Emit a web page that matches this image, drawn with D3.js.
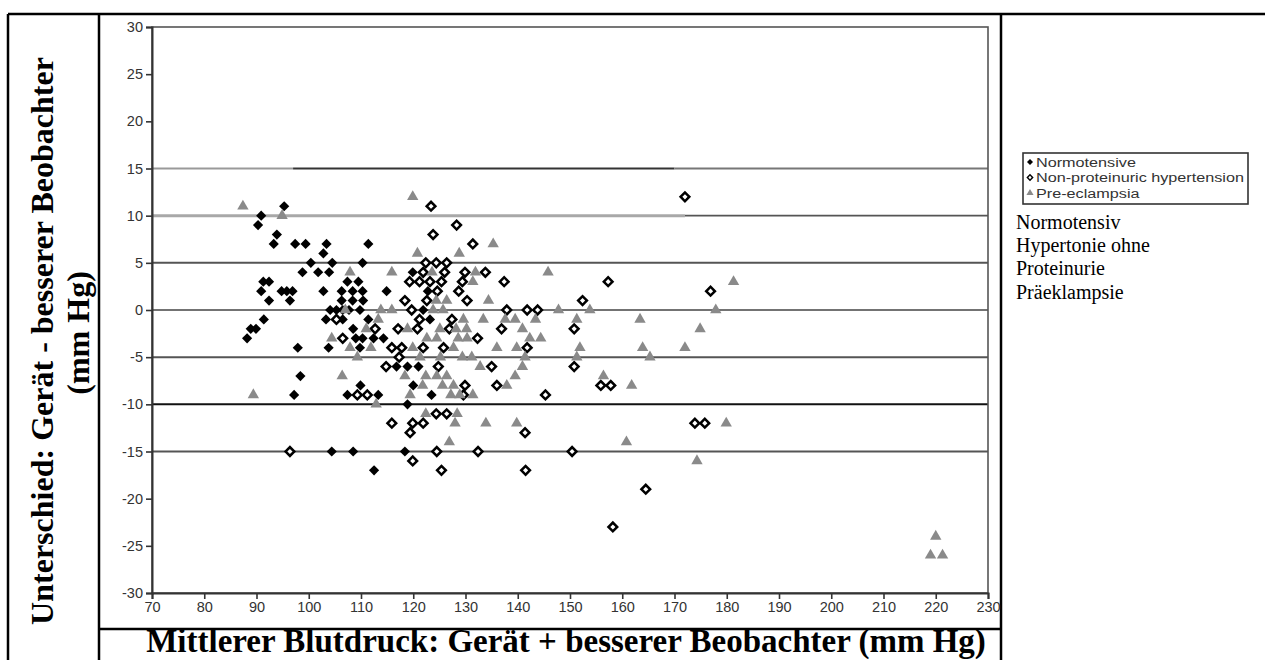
<!DOCTYPE html>
<html><head><meta charset="utf-8">
<script src="https://cdn.jsdelivr.net/npm/d3@7"></script>
<style>body{margin:0;background:#fff}svg{display:block}</style>
</head><body>
<svg id="c" width="1265" height="660"></svg>
<script>
// ---- data ----
const xTicks = [70,80,90,100,110,120,130,140,150,160,170,180,190,200,210,220,230];
const yTicks = [-30,-25,-20,-15,-10,-5,0,5,10,15,20,25,30];
const refLevels = [15,10,5,0,-5,-10,-15];
const seriesNames = ["Normotensive","Non-proteinuric hypertension","Pre-eclampsia"];
const noteLines = ["Normotensiv","Hypertonie ohne","Proteinurie","Präeklampsie"];
const yTitle1 = "Unterschied: Gerät - besserer Beobachter";
const yTitle2 = "(mm Hg)";
const xTitle = "Mittlerer Blutdruck: Gerät + besserer Beobachter (mm Hg)";

const normotensive = [
 [90.9,10],[90.3,9],[95.3,11],[93.9,8],[93.3,7],[97.4,7],[99.4,7],[103.4,7],[111.4,7],
 [102.8,6],
 [100.4,5],[104.5,5],[110.3,5],
 [98.8,4],[101.8,4],[103.9,4],[119.9,4],
 [91.3,3],[92.4,3],[107.4,3],[109.5,3],
 [90.9,2],[94.8,2],[95.8,2],[96.9,2],[102.8,2],[106.3,2],[108.4,2],[110.3,2],[114.9,2],[122.8,2],
 [92.4,1],[96.4,1],[106.3,1],[108.4,1],[110.4,1],
 [104.1,0],[105.3,0],[106.5,0],[107.7,0],[109.8,0],[121.9,0],
 [91.4,-1],[103.3,-1],[106.5,-1],[111.4,-1],[123.2,-1],
 [88.9,-2],[89.9,-2],[108.5,-2],
 [88.2,-3],[109,-3],[110.3,-3],[112.4,-3],[114.3,-3],
 [97.9,-4],[103.8,-4],[109.8,-4],
 [116.8,-6],[118.9,-6],[121,-6],
 [98.4,-7],
 [109.9,-8],[120,-8],
 [97.2,-9],[107.4,-9],[113.3,-9],[123.5,-9],
 [118.9,-10],
 [104.4,-15],[108.5,-15],[118.4,-15],
 [112.5,-17]
];
const nonProteinuric = [
 [172,12],[123.4,11],[128.3,9],[123.8,8],[131.4,7],
 [122.4,5],[124.4,5],[126.4,5],
 [121.9,4],[126,4],[129.9,4],[133.8,4],
 [119.3,3],[121.2,3],[123.2,3],[125.4,3],[129.4,3],[137.4,3],[157.3,3],
 [124.6,2],[128.7,2],[176.9,2],
 [118.4,1],[122.6,1],[130.3,1],[152.4,1],
 [119.7,0],[137.9,0],[141.8,0],[143.8,0],
 [105.3,-1],[121.2,-1],[127.4,-1],
 [112.7,-2],[117.1,-2],[120.8,-2],[126.9,-2],[136.9,-2],[150.8,-2],
 [106.5,-3],[132.3,-3],
 [115.9,-4],[117.8,-4],[121.9,-4],[125.8,-4],[141.8,-4],
 [117.3,-5],
 [114.8,-6],[124.8,-6],[135,-6],[150.8,-6],
 [129.9,-8],[136,-8],[155.9,-8],[157.8,-8],
 [109.3,-9],[111.2,-9],[129.6,-9],[145.3,-9],
 [124.4,-11],[126.4,-11],
 [115.9,-12],[119.9,-12],[121.9,-12],[173.9,-12],[175.8,-12],
 [119.4,-13],[141.4,-13],
 [96.4,-15],[124.5,-15],[132.4,-15],[150.4,-15],
 [119.9,-16],
 [125.4,-17],[141.5,-17],
 [164.5,-19],
 [158.2,-23]
];
const preEclampsia = [
 [119.9,12],[87.4,11],[94.9,10],[135.3,7],
 [120.8,6],[128.8,6],
 [107.9,4],[115.9,4],[123.6,4],[131.9,4],[145.8,4],
 [131.4,3],[181.3,3],
 [124.4,1],[126.4,1],[134.4,1],
 [107,0],[113.8,0],[115.9,0],[123.8,0],[125.7,0],[147.8,0],[153.8,0],[177.9,0],
 [113.3,-1],[129.6,-1],[133.4,-1],[137.6,-1],[139.5,-1],[143.4,-1],[151.3,-1],[163.4,-1],
 [111,-2],[118.9,-2],[125.1,-2],[128.2,-2],[130.2,-2],[140.9,-2],[174.9,-2],
 [104.4,-3],[122.6,-3],[124.5,-3],[128.6,-3],[130.3,-3],[142.3,-3],[144.4,-3],
 [107.9,-4],[111.9,-4],[119.9,-4],[127.7,-4],[136,-4],[139.8,-4],[151.9,-4],[163.9,-4],[172,-4],
 [109.3,-5],[121.3,-5],[125.2,-5],[129.4,-5],[131.2,-5],[141.4,-5],[151.3,-5],[165.3,-5],
 [132.8,-6],[140.9,-6],
 [106.4,-7],[118.4,-7],[122.4,-7],[124.5,-7],[126.4,-7],[139.5,-7],[156.4,-7],
 [121.8,-8],[125.6,-8],[127.7,-8],[137.9,-8],[161.8,-8],
 [89.4,-9],[119.4,-9],[127.2,-9],[128.9,-9],[131.4,-9],
 [112.9,-10],
 [122.4,-11],[128.4,-11],
 [128,-12],[133.9,-12],[139.8,-12],[179.9,-12],
 [126.9,-14],[160.8,-14],
 [174.3,-16],
 [220,-24],[219,-26],[221.3,-26]
];

// ---- drawing ----
const svg = d3.select("#c");
const x = d3.scaleLinear().domain([70,230]).range([152,988]);
const y = d3.scaleLinear().domain([-30,30]).range([593,27]);

// table borders
const tb = svg.append("g").attr("stroke","#000").attr("stroke-width",2.5);
tb.append("line").attr("x1",8).attr("x2",1265).attr("y1",14).attr("y2",14);
tb.append("line").attr("x1",8).attr("x2",8).attr("y1",14).attr("y2",660);
tb.append("line").attr("x1",99).attr("x2",99).attr("y1",14).attr("y2",660);
tb.append("line").attr("x1",1001).attr("x2",1001).attr("y1",14).attr("y2",660);
tb.append("line").attr("x1",99).attr("x2",1001).attr("y1",629).attr("y2",629);

// reference lines
function refStyle(v){
  if(v===10) return {segs:[[70,172,"#a8a8a8",3],[172,230,"#555",1.6]]};
  if(v===15) return {segs:[[70,97,"#999",1.8],[97,170,"#333",1.8],[170,230,"#777",1.8]]};
  if(v===-10) return {segs:[[70,230,"#111",2]]};
  if(v===0) return {segs:[[70,230,"#444",1.6]]};
  return {segs:[[70,230,"#555",2]]};
}
const rl = svg.append("g");
refLevels.forEach(v=>{
  refStyle(v).segs.forEach(s=>{
    rl.append("line").attr("x1",x(s[0])).attr("x2",x(s[1]))
      .attr("y1",y(v)).attr("y2",y(v)).attr("stroke",s[2]).attr("stroke-width",s[3]);
  });
});

// frame
svg.append("rect").attr("x",x(70)).attr("y",y(30)).attr("width",x(230)-x(70)).attr("height",y(-30)-y(30))
  .attr("fill","none").attr("stroke","#555").attr("stroke-width",1.6);

// axes
const ax = svg.append("g").attr("transform",`translate(${x(70)},0)`)
  .call(d3.axisLeft(y).tickValues(yTicks).tickSize(6).tickPadding(3).tickFormat(d=>String(d)));
const bx = svg.append("g").attr("transform",`translate(0,${y(-30)})`)
  .call(d3.axisBottom(x).tickValues(xTicks).tickSize(6).tickPadding(3).tickFormat(d=>String(d)));
[ax,bx].forEach(g=>{
  g.select(".domain").attr("stroke","#333").attr("stroke-width",2);
  g.selectAll(".tick line").attr("stroke","#333").attr("stroke-width",1.6);
  g.selectAll(".tick text").attr("fill","#333").attr("font-family","Liberation Sans, Arial, sans-serif").attr("font-size",14.5);
});

// markers
const sq = d3.symbol().type(d3.symbolSquare);
const tri = d3.symbol().type(d3.symbolTriangle);
function drawSeries(data, kind){
  const g = svg.append("g");
  g.selectAll("path").data(data).join("path")
    .attr("transform",d=> kind==="tri" ? `translate(${x(d[0])},${y(d[1])})` : `translate(${x(d[0])},${y(d[1])}) rotate(45)`)
    .attr("d", kind==="tri" ? tri.size(56)() : sq.size(kind==="open"?38:52)())
    .attr("fill", kind==="filled" ? "#000" : kind==="open" ? "#fff" : "#8a8a8a")
    .attr("stroke", kind==="open" ? "#000" : "none")
    .attr("stroke-width", kind==="open" ? 2.5 : 0);
}
drawSeries(normotensive,"filled");
drawSeries(nonProteinuric,"open");
drawSeries(preEclampsia,"tri");

// legend
const lg = svg.append("g");
lg.append("rect").attr("x",1023).attr("y",153).attr("width",225).attr("height",51)
  .attr("fill","#fff").attr("stroke","#333").attr("stroke-width",1.6);
const kinds = ["filled","open","tri"];
seriesNames.forEach((n,i)=>{
  const cy = 162 + i*15.5;
  const k = kinds[i];
  lg.append("path")
    .attr("transform", k==="tri" ? `translate(1030,${cy})` : `translate(1030,${cy}) rotate(45)`)
    .attr("d", k==="tri" ? tri.size(22)() : sq.size(k==="open"?14:18)())
    .attr("fill", k==="filled" ? "#000" : k==="open" ? "#fff" : "#8a8a8a")
    .attr("stroke", k==="open" ? "#000" : "none").attr("stroke-width",1.4);
  lg.append("text").attr("x",1036).attr("y",cy+4.5)
    .attr("font-family","Liberation Sans, Arial, sans-serif").attr("font-size",12.5).attr("fill","#333").text(n);
});
const longest = lg.selectAll("text").filter((d,i,nodes)=>nodes[i].textContent===seriesNames[1]).node();
const stretch = 208 / longest.getComputedTextLength();
lg.selectAll("text").each(function(){
  d3.select(this).attr("textLength", this.getComputedTextLength()*stretch).attr("lengthAdjust","spacingAndGlyphs");
});

// German note lines
noteLines.forEach((s,i)=>{
  svg.append("text").attr("x",1016).attr("y",229 + i*23.2)
    .attr("font-family","Liberation Serif, Times New Roman, serif").attr("font-size",20).attr("fill","#000").text(s);
});

// titles
function fit(t, w){
  const L = t.node().getComputedTextLength();
  const fs = parseFloat(t.attr("font-size"));
  t.attr("font-size", fs*w/L);
}
const xt = svg.append("text").attr("x",566).attr("y",652).attr("text-anchor","middle")
  .attr("font-family","Liberation Serif, Times New Roman, serif").attr("font-weight","bold")
  .attr("font-size",28).text(xTitle);
fit(xt, 840);
const yt1 = svg.append("text").attr("transform","translate(53,341) rotate(-90)").attr("text-anchor","middle")
  .attr("font-family","Liberation Serif, Times New Roman, serif").attr("font-weight","bold")
  .attr("font-size",28).text(yTitle1);
fit(yt1, 568);
svg.append("text").attr("transform","translate(89,333) rotate(-90)").attr("text-anchor","middle")
  .attr("font-family","Liberation Serif, Times New Roman, serif").attr("font-weight","bold")
  .attr("font-size",yt1.attr("font-size")).text(yTitle2);
</script>
</body></html>
